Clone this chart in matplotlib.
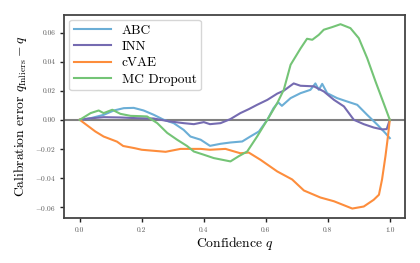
import matplotlib
matplotlib.use("Agg")
import matplotlib.pyplot as plt

plt.rcParams['font.family'] = 'serif'
plt.rcParams['font.serif'] = ['cmr10', 'DejaVu Serif']
plt.rcParams['mathtext.fontset'] = 'cm'
plt.rcParams['axes.formatter.use_mathtext'] = True
plt.rcParams['axes.unicode_minus'] = True

# Data
abc_q = [0.0, 0.035, 0.077, 0.11, 0.142, 0.174, 0.206, 0.239, 0.271, 0.303, 0.335,
         0.357, 0.39, 0.42, 0.454, 0.486, 0.524, 0.55, 0.578, 0.605, 0.625, 0.64,
         0.652, 0.68, 0.712, 0.744, 0.76, 0.771, 0.782, 0.798, 0.83, 0.862, 0.895,
         0.927, 0.96, 0.986, 1.0]
abc_err = [0.0, 0.0011, 0.0034, 0.0064, 0.0080, 0.0082, 0.0064, 0.0034, 0.0, -0.0023, -0.0069,
           -0.0115, -0.0137, -0.0179, -0.0165, -0.0156, -0.0149, -0.0115, -0.0080, 0.0, 0.0080, 0.0120,
           0.0096, 0.0149, 0.0183, 0.0206, 0.0250, 0.0206, 0.0247, 0.0183, 0.0149, 0.0126, 0.0103,
           0.0034, -0.0034, -0.0092, -0.0126]

inn_q = [0.0, 0.035, 0.077, 0.131, 0.185, 0.238, 0.29, 0.335, 0.368, 0.4, 0.42, 0.454,
         0.486, 0.518, 0.545, 0.572, 0.605, 0.637, 0.658, 0.69, 0.712, 0.755, 0.787,
         0.82, 0.852, 0.884, 0.916, 0.948, 0.975, 0.99, 1.0]
inn_err = [0.0, 0.0010, 0.0018, 0.0016, 0.0011, 0.0009, -0.0011, -0.0023, -0.0030, -0.0016, -0.0030, -0.0023,
           0.0005, 0.0046, 0.0073, 0.0103, 0.0137, 0.0180, 0.0200, 0.0250, 0.0234, 0.0230, 0.0195,
           0.0137, 0.0092, 0.0, -0.0030, -0.0053, -0.0066, -0.0064, 0.0]

cvae_q = [0.0, 0.05, 0.077, 0.12, 0.14, 0.177, 0.2, 0.277, 0.325, 0.39, 0.42, 0.47,
          0.518, 0.545, 0.583, 0.637, 0.685, 0.723, 0.776, 0.82, 0.879, 0.916, 0.948,
          0.965, 0.975, 0.986, 0.994, 1.0]
cvae_err = [0.0, -0.0080, -0.0115, -0.0150, -0.0180, -0.0195, -0.0206, -0.0220, -0.0200, -0.0200, -0.0206, -0.0200,
            -0.0230, -0.0225, -0.0275, -0.0355, -0.0410, -0.0486, -0.0534, -0.0560, -0.0610, -0.0596, -0.0550,
            -0.0515, -0.0410, -0.0250, -0.0115, 0.0]

mc_q = [0.0, 0.035, 0.061, 0.077, 0.105, 0.131, 0.164, 0.196, 0.217, 0.25, 0.282, 0.314,
        0.346, 0.368, 0.4, 0.432, 0.486, 0.513, 0.54, 0.572, 0.605, 0.637, 0.658, 0.68,
        0.712, 0.733, 0.75, 0.771, 0.787, 0.814, 0.841, 0.873, 0.9, 0.927, 0.954,
        0.98, 1.0]
mc_err = [0.0, 0.0046, 0.0064, 0.0046, 0.0069, 0.0041, 0.0027, 0.0025, 0.0023, -0.0023, -0.0090, -0.0137,
          -0.0180, -0.0218, -0.0240, -0.0263, -0.0286, -0.0250, -0.0218, -0.0115, 0.0, 0.0115, 0.0206, 0.0378,
          0.0490, 0.0557, 0.0550, 0.0584, 0.0619, 0.0637, 0.0657, 0.0630, 0.0561, 0.0424, 0.0263,
          0.0115, 0.0]

fig, ax = plt.subplots(figsize=(4.2, 2.63), dpi=100)
ax.axhline(0, color='#808080', lw=1.5, zorder=1)
ax.plot(abc_q, abc_err, color='#6baed6', lw=1.5, label='ABC')
ax.plot(inn_q, inn_err, color='#756bb1', lw=1.5, label='INN')
ax.plot(cvae_q, cvae_err, color='#fd8d3c', lw=1.5, label='cVAE')
ax.plot(mc_q, mc_err, color='#74c476', lw=1.5, label='MC Dropout')

ax.set_xlabel('Confidence $q$', fontsize=9.8, labelpad=2)
ax.set_ylabel(r'Calibration error $q_{\mathrm{Inliers}} - q$', fontsize=9.8, labelpad=4)
ax.set_xticks([0.0, 0.2, 0.4, 0.6, 0.8, 1.0])
ax.set_yticks([-0.06, -0.04, -0.02, 0.0, 0.02, 0.04, 0.06])
ax.set_xticklabels(['0.0', '0.2', '0.4', '0.6', '0.8', '1.0'])
ax.set_yticklabels(['$-0.06$', '$-0.04$', '$-0.02$', '0.00', '0.02', '0.04', '0.06'])
ax.tick_params(labelsize=5.3, labelcolor='#555555', length=3, width=1, color='#222222')
for s in ax.spines.values():
    s.set_color('#444444')
    s.set_linewidth(1.3)

leg = ax.legend(loc='upper left', fontsize=9.6, handlelength=2.8, frameon=True,
                borderaxespad=0.35, labelspacing=0.3, borderpad=0.35)
leg.get_frame().set_edgecolor('#cccccc')

fig.subplots_adjust(left=0.153, right=0.965, top=0.943, bottom=0.172)
fig.savefig('out.png', dpi=100)
